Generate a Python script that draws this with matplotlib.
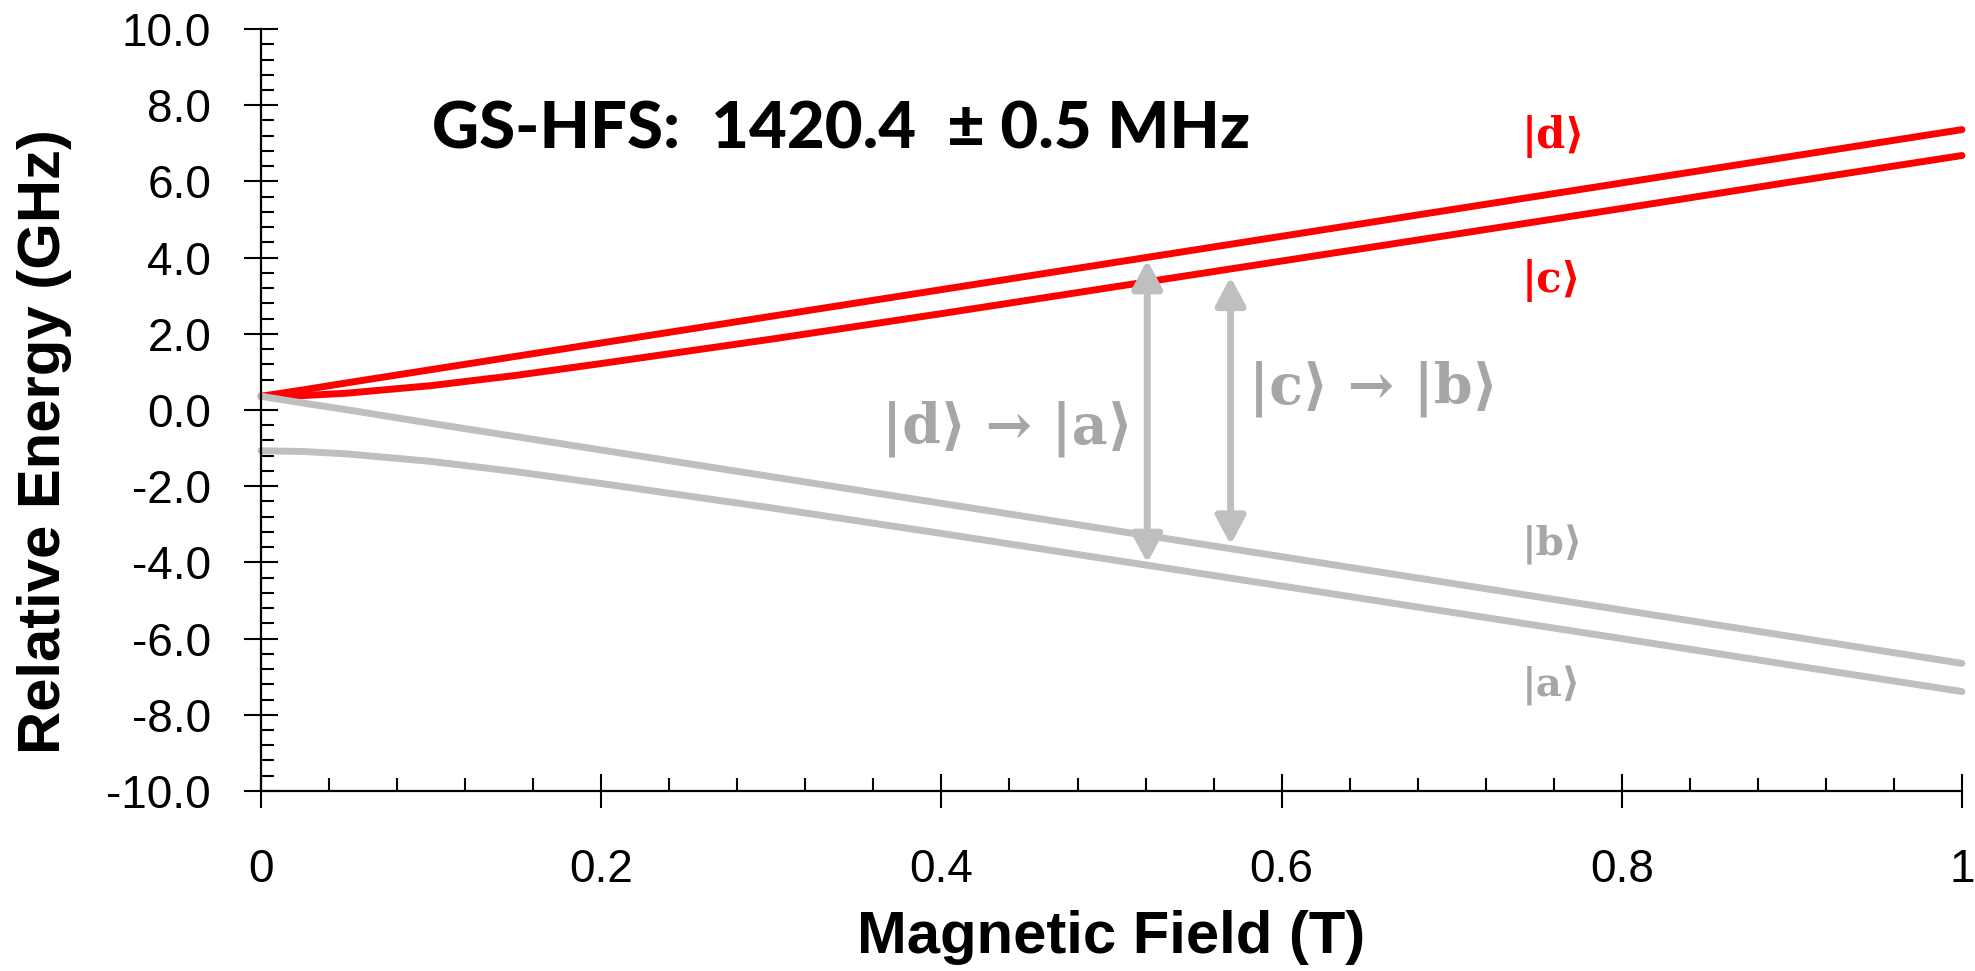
import matplotlib
matplotlib.use("Agg")
import matplotlib.pyplot as plt
from matplotlib.ticker import MultipleLocator, FormatStrFormatter, FuncFormatter

# magnetic field (T) and level energies (GHz)
field = [0.0, 0.025, 0.05, 0.1, 0.15, 0.2, 0.3, 0.4, 0.5, 0.6, 0.7, 0.8, 0.9, 1.0]
level_d = [0.36, 0.53, 0.71, 1.06, 1.41, 1.76, 2.46, 3.16, 3.86, 4.56, 5.26, 5.96, 6.66, 7.36]
level_c = [0.36, 0.38, 0.44, 0.64, 0.91, 1.22, 1.86, 2.53, 3.22, 3.91, 4.60, 5.29, 5.99, 6.68]
level_b = [0.36, 0.18, 0.01, -0.35, -0.70, -1.05, -1.75, -2.45, -3.15, -3.85, -4.55, -5.25, -5.95, -6.65]
level_a = [-1.07, -1.09, -1.15, -1.35, -1.62, -1.93, -2.57, -3.24, -3.93, -4.62, -5.31, -6.00, -6.70, -7.39]

# transition arrows: field, upper tip, lower tip
arrow_x = [0.521, 0.570]
arrow_top = [3.94, 3.50]
arrow_bottom = [-4.02, -3.54]

RED = "#FF0000"
LINE_GREY = "#BFBFBF"
TEXT_GREY = "#A6A6A6"
SERIF = ["DejaVu Serif", "DejaVu Sans"]

plt.rcParams["axes.unicode_minus"] = False
plt.rcParams["font.family"] = ["Liberation Sans", "DejaVu Sans"]

fig = plt.figure(figsize=(19.75, 9.71), dpi=100)
ax = fig.add_axes([0.1322, 0.1854, 0.8612, 0.7847])

lw = 5.0
ax.plot(field, level_d, color=RED, lw=lw, clip_on=False, solid_capstyle="round")
ax.plot(field, level_c, color=RED, lw=lw, clip_on=False, solid_capstyle="round")
ax.plot(field, level_b, color=LINE_GREY, lw=lw, clip_on=False, solid_capstyle="round")
ax.plot(field, level_a, color=LINE_GREY, lw=lw, clip_on=False, solid_capstyle="round")

for x, top, bot in zip(arrow_x, arrow_top, arrow_bottom):
    ax.annotate("", xy=(x, top), xytext=(x, bot),
                arrowprops=dict(arrowstyle="<|-|>,head_length=0.85,head_width=0.45",
                                color=LINE_GREY, lw=5, mutation_scale=20,
                                shrinkA=0, shrinkB=0))

ax.set_xlim(0, 1)
ax.set_ylim(-10, 10)
for s in ["top", "right"]:
    ax.spines[s].set_visible(False)
for s in ["left", "bottom"]:
    ax.spines[s].set_linewidth(1.6)

ax.xaxis.set_major_locator(MultipleLocator(0.2))
ax.xaxis.set_minor_locator(MultipleLocator(0.04))
ax.yaxis.set_major_locator(MultipleLocator(2))
ax.yaxis.set_minor_locator(MultipleLocator(0.4))
ax.yaxis.set_major_formatter(FormatStrFormatter("%.1f"))
ax.xaxis.set_major_formatter(FuncFormatter(lambda v, p: f"{v:g}"))

ax.tick_params(which="major", direction="inout", length=24, width=1.5, labelsize=33)
ax.tick_params(which="minor", direction="in", length=9.5, width=1.5)
ax.tick_params(axis="y", which="major", pad=24)
ax.tick_params(axis="x", which="major", pad=29)

fig.text(0.5626, 0.034, "Magnetic Field (T)", ha="center", va="center",
         fontsize=43, fontweight="bold")
fig.text(0.0223, 0.545, "Relative Energy (GHz)", ha="center", va="center",
         rotation=90, fontsize=43, fontweight="bold")

ax.text(0.1005, 7.35, "GS-HFS:  1420.4  \u00b1 0.5 MHz", ha="left", va="center",
        fontsize=47, fontweight=900, family=["Lato", "DejaVu Sans"])

# state labels
ax.text(0.741, 7.17, "|d\u27e9", color=RED, fontsize=30, fontweight="bold",
        family=SERIF, ha="left", va="center")
ax.text(0.741, 3.41, "|c\u27e9", color=RED, fontsize=30, fontweight="bold",
        family=SERIF, ha="left", va="center")
ax.text(0.741, -3.54, "|b\u27e9", color=TEXT_GREY, fontsize=29, fontweight="bold",
        family=SERIF, ha="left", va="center")
ax.text(0.741, -7.24, "|a\u27e9", color=TEXT_GREY, fontsize=29, fontweight="bold",
        family=SERIF, ha="left", va="center")

# transition labels
ax.text(0.439, -0.48, "|d\u27e9 \u2192 |a\u27e9", color=TEXT_GREY, fontsize=40,
        fontweight="bold", family=SERIF, ha="center", va="center")
ax.text(0.654, 0.55, "|c\u27e9 \u2192 |b\u27e9", color=TEXT_GREY, fontsize=40,
        fontweight="bold", family=SERIF, ha="center", va="center")

fig.savefig("out.png", dpi=100)
